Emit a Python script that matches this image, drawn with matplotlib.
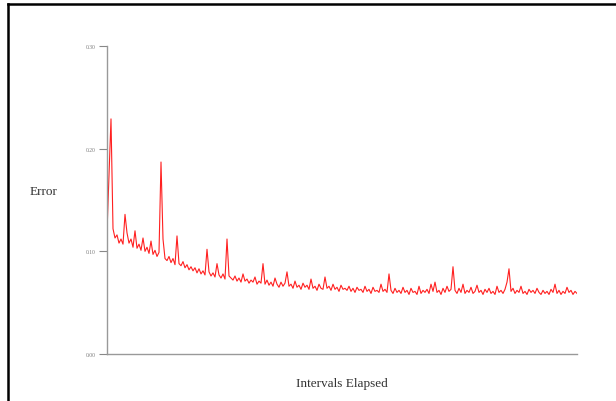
import matplotlib
matplotlib.use("Agg")
import matplotlib.pyplot as plt
from matplotlib.lines import Line2D

# error per interval, sampled every couple of intervals
error = [
    0.119, 0.175, 0.229, 0.122, 0.113, 0.116, 0.108, 0.112, 0.107, 0.136,
    0.118, 0.108, 0.112, 0.104, 0.120, 0.103, 0.107, 0.101, 0.113, 0.100,
    0.104, 0.098, 0.110, 0.097, 0.101, 0.095, 0.099, 0.187, 0.112, 0.093,
    0.091, 0.095, 0.089, 0.093, 0.087, 0.115, 0.088, 0.086, 0.090, 0.084,
    0.087, 0.082, 0.085, 0.081, 0.084, 0.079, 0.083, 0.078, 0.081, 0.077,
    0.102, 0.080, 0.076, 0.079, 0.075, 0.088, 0.077, 0.074, 0.078, 0.073,
    0.112, 0.076, 0.074, 0.072, 0.076, 0.071, 0.074, 0.070, 0.078, 0.071,
    0.073, 0.069, 0.072, 0.070, 0.075, 0.068, 0.071, 0.069, 0.088, 0.068,
    0.072, 0.067, 0.070, 0.066, 0.074, 0.068, 0.065, 0.070, 0.066, 0.069,
    0.080, 0.066, 0.068, 0.064, 0.071, 0.065, 0.067, 0.063, 0.069, 0.065,
    0.067, 0.063, 0.073, 0.064, 0.066, 0.062, 0.068, 0.064, 0.063, 0.075,
    0.064, 0.066, 0.062, 0.068, 0.063, 0.065, 0.061, 0.067, 0.063, 0.064,
    0.062, 0.066, 0.061, 0.064, 0.060, 0.065, 0.062, 0.063, 0.060, 0.066,
    0.061, 0.063, 0.059, 0.065, 0.061, 0.062, 0.060, 0.068, 0.061, 0.063,
    0.060, 0.078, 0.062, 0.059, 0.064, 0.060, 0.062, 0.059, 0.065, 0.060,
    0.062, 0.058, 0.064, 0.060, 0.061, 0.058, 0.066, 0.059, 0.062, 0.060,
    0.063, 0.059, 0.068, 0.061, 0.070, 0.060, 0.062, 0.058, 0.064, 0.060,
    0.066, 0.061, 0.063, 0.085, 0.062, 0.059, 0.064, 0.060, 0.068, 0.059,
    0.062, 0.060, 0.065, 0.059, 0.061, 0.067, 0.060, 0.062, 0.058, 0.063,
    0.060, 0.064, 0.059, 0.061, 0.058, 0.066, 0.060, 0.062, 0.059, 0.063,
    0.070, 0.083, 0.061, 0.064, 0.059, 0.062, 0.060, 0.066, 0.059, 0.061,
    0.058, 0.063, 0.060, 0.062, 0.059, 0.064, 0.060, 0.058, 0.062, 0.059,
    0.061, 0.058, 0.063, 0.060, 0.068, 0.059, 0.062, 0.058, 0.061, 0.059,
    0.065, 0.060, 0.062, 0.058, 0.061, 0.059,
]
intervals = list(range(len(error)))
y_ticks = [0.0, 0.1, 0.2, 0.3]
y_tick_labels = ["0.00", "0.10", "0.20", "0.30"]

plt.rcParams['font.family'] = ['Liberation Serif', 'DejaVu Serif']

fig = plt.figure(figsize=(6.16, 4.02), dpi=100)
ax = fig.add_axes([107 / 616, 1 - 355 / 402, 470 / 616, 308 / 402])

ax.plot(intervals, error, color='#ff2020', linewidth=0.8)

ax.set_xlim(0, len(error) - 1)
ax.set_ylim(0, 0.3)
ax.set_xticks([])
ax.set_yticks(y_ticks)
ax.set_yticklabels(y_tick_labels, fontsize=4, color='#777777')
ax.tick_params(axis='y', length=6, width=0.8, color='#888888', pad=2)

for side in ['top', 'right']:
    ax.spines[side].set_visible(False)
for side in ['left', 'bottom']:
    ax.spines[side].set_color('#999999')
    ax.spines[side].set_linewidth(1.0)

fig.text(30 / 616, 1 - 192 / 402, "Error", fontsize=9.5, color='#333333', va='center')
fig.text(342 / 616, 1 - 384 / 402, "Intervals Elapsed", fontsize=9.5, color='#333333',
         ha='center', va='center')

# outer border: top and left edges only
top_y = 1 - 5 / 402
left_x = 8 / 616
fig.add_artist(Line2D([left_x, 1.0], [top_y, top_y], transform=fig.transFigure,
                      color='black', linewidth=1.8))
fig.add_artist(Line2D([left_x, left_x], [0.0, top_y], transform=fig.transFigure,
                      color='black', linewidth=1.8))

fig.savefig("out.png", dpi=100)
